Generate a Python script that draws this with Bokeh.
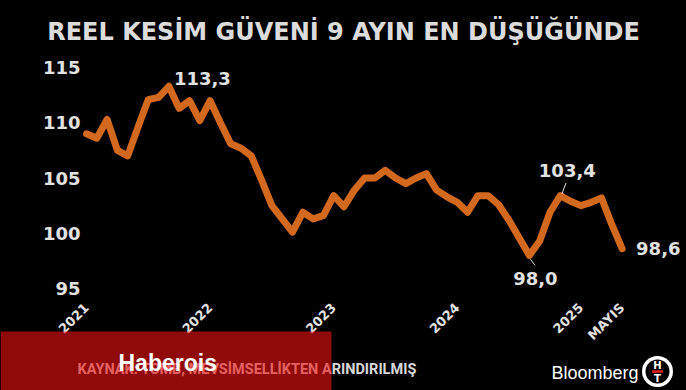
import math
from bokeh.plotting import figure
from bokeh.models import Range1d
from bokeh.embed import file_html
from bokeh.resources import INLINE
from bokeh.core.properties import value

# ---------------- data ----------------
month_index = list(range(53))  # Jan 2021 .. May 2025
confidence = [
    109.0, 108.6, 110.3, 107.5, 107.0, 109.6, 112.1, 112.3, 113.3, 111.3, 112.0, 110.2,  # 2021
    112.0, 110.0, 108.1, 107.7, 107.0, 104.8, 102.5, 101.3, 100.1, 101.9, 101.3, 101.6,  # 2022
    103.4, 102.4, 103.9, 105.0, 105.0, 105.7, 105.0, 104.5, 105.0, 105.4, 103.9, 103.3,  # 2023
    102.8, 101.9, 103.4, 103.4, 102.6, 101.2, 99.6, 98.0, 99.3, 101.9, 103.4, 102.9,     # 2024
    102.5, 102.8, 103.2, 100.8, 98.6,                                                    # 2025
]
x_tick_positions = [0, 12, 24, 36, 48, 52]
x_tick_labels = ["2021", "2022", "2023", "2024", "2025", "MAYIS"]
y_ticks = [95, 100, 105, 110, 115]
y_tick_labels = [str(t) for t in y_ticks]
title_text = "REEL KESİM GÜVENİ 9 AYIN EN DÜŞÜĞÜNDE"
source_text = "KAYNAK: TCMB, MEVSİMSELLİKTEN ARINDIRILMIŞ"
watermark_text = "Haberois"
brand_text = "Bloomberg"
left_labels_idx = [8, 52]
center_labels_idx = [46, 43]

def fmt(v):
    return f"{v:.1f}".replace(".", ",")

BG = "#000000"
LINE = "#d2691e"
TXT = "#e2e2e2"
FONT = value("DejaVu Sans")

# ---------------- scales: the frame covers the whole canvas below the title ----------------
W, H, TOP = 686, 390, 50
PX_PER_MONTH, PX_PER_UNIT = 10.3, 11.05
X0 = -86 / PX_PER_MONTH
X1 = X0 + W / PX_PER_MONTH
Y1 = 116.54
Y0 = Y1 - (H - TOP) / PX_PER_UNIT

def cx(px):   # canvas pixel -> data x (for decorations only)
    return X0 + px / PX_PER_MONTH

def cy(py):   # canvas pixel -> data y (for decorations only)
    return Y1 - (py - TOP) / PX_PER_UNIT

p = figure(width=W, height=H, output_backend="svg", toolbar_location=None,
           x_range=Range1d(X0, X1), y_range=Range1d(Y0, Y1),
           min_border_left=0, min_border_right=0, min_border_top=TOP, min_border_bottom=0,
           background_fill_color=BG, border_fill_color=None, outline_line_color=None)
p.axis.visible = False
p.grid.visible = False

p.title.text = title_text
p.title.align = "center"
p.title.text_font = "DejaVu Sans"
p.title.text_font_style = "bold"
p.title.text_font_size = "24px"
p.title.text_color = "#dcdcdc"

# y tick labels (right-aligned just left of the series start)
p.text(x=[month_index[0]] * len(y_ticks), y=y_ticks, text=y_tick_labels,
       x_offset=-6, text_font=FONT, text_font_style="bold", text_font_size="18px",
       text_color=TXT, text_align="right", text_baseline="middle")

# x tick labels, rotated 45 degrees, hanging below the lowest tick
p.text(x=x_tick_positions, y=[y_ticks[0]] * len(x_tick_positions), text=x_tick_labels,
       angle=math.pi / 4, x_offset=0, y_offset=17,
       text_font=FONT, text_font_style="bold", text_font_size="13px",
       text_color=TXT, text_align="right", text_baseline="middle")

# series
p.line(month_index, confidence, line_width=7, line_color=LINE,
       line_join="round", line_cap="round")

# value labels
p.text(x=[month_index[i] for i in left_labels_idx],
       y=[confidence[i] for i in left_labels_idx],
       x_offset=[5, 14], y_offset=[-8, 0],
       text=[fmt(confidence[i]) for i in left_labels_idx],
       text_font=FONT, text_font_style="bold", text_font_size="18px",
       text_color=TXT, text_align="left", text_baseline="middle")
p.text(x=[month_index[i] for i in center_labels_idx],
       y=[confidence[i] for i in center_labels_idx],
       x_offset=[7, 6], y_offset=[-25, 23],
       text=[fmt(confidence[i]) for i in center_labels_idx],
       text_font=FONT, text_font_style="bold", text_font_size="18px",
       text_color=TXT, text_align="center", text_baseline="middle")
p.segment(x0=[month_index[46] + 0.15, month_index[43] + 0.1],
          y0=[confidence[46] + 0.15, confidence[43] - 0.35],
          x1=[month_index[46] + 0.55, month_index[43] + 0.55],
          y1=[confidence[46] + 1.15, confidence[43] - 0.9],
          line_color=TXT, line_width=1)

# ---------------- footer ----------------
p.text(x=[cx(77)], y=[cy(368.5)], text=[source_text], text_font=value("Roboto"),
       text_font_style="bold", text_font_size="14.5px", text_color="#d8d8d8",
       text_baseline="alphabetic")
p.quad(left=[cx(0)], right=[cx(331)], top=[cy(331)], bottom=[cy(390)],
       fill_color="#f01010", fill_alpha=0.6, line_color=None)
p.text(x=[cx(118)], y=[cy(362)], text=[watermark_text], text_font=value("Liberation Sans"),
       text_font_style="bold", text_font_size="23px", text_color="#ffffff",
       text_baseline="alphabetic")
p.text(x=[cx(551)], y=[cy(372.5)], text=[brand_text], text_font=value("Liberation Sans"),
       text_font_size="18px", text_color="#ffffff", text_baseline="alphabetic")
p.scatter(x=[cx(657)], y=[cy(371)], marker="circle", size=31,
          fill_color="#ffffff", line_color=None)
p.scatter(x=[cx(657)], y=[cy(371)], marker="circle", size=24,
          fill_color="#000000", line_color=None)
p.rect(x=[cx(657)], y=[cy(371)], width=11, height=2.5, width_units="screen",
       height_units="screen", fill_color="#e02020", line_color=None)
p.text(x=[cx(657), cx(657)], y=[cy(365), cy(377.5)], text=["H", "T"], text_font=FONT,
       text_font_style="bold", text_font_size="10px", text_color="#ffffff",
       text_align="center", text_baseline="middle")

html = file_html(p, INLINE)
html = html.replace("<head>", "<head><style>html,body{background:#000000;margin:0;}</style>", 1)
open("out.html", "w").write(html)
